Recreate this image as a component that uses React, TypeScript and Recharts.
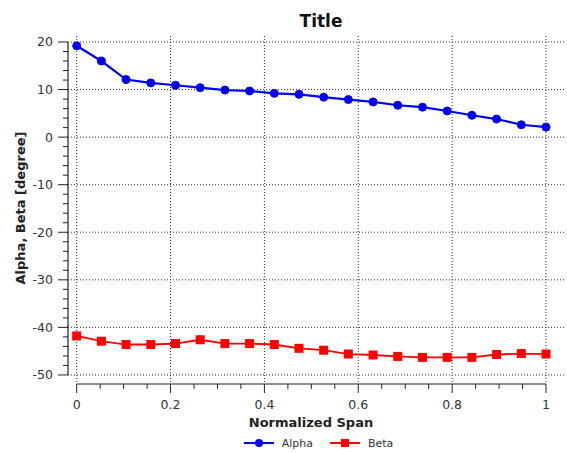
import React from 'react';
import {
  LineChart,
  Line,
  XAxis,
  YAxis,
  CartesianGrid,
  Legend,
  ReferenceLine,
  Customized,
} from 'recharts';

// ---- data ----
const SPAN = [
  0, 0.0526, 0.1053, 0.1579, 0.2105, 0.2632, 0.3158, 0.3684, 0.4211, 0.4737,
  0.5263, 0.5789, 0.6316, 0.6842, 0.7368, 0.7895, 0.8421, 0.8947, 0.9474, 1,
];
const ALPHA = [
  19.2, 16.0, 12.1, 11.4, 10.9, 10.4, 9.9, 9.7, 9.2, 9.0,
  8.4, 7.9, 7.4, 6.7, 6.3, 5.5, 4.6, 3.8, 2.6, 2.1,
];
const BETA = [
  -41.8, -42.9, -43.6, -43.6, -43.4, -42.6, -43.4, -43.4, -43.6, -44.4,
  -44.8, -45.6, -45.8, -46.1, -46.3, -46.3, -46.3, -45.7, -45.5, -45.6,
];

const X_MAJOR = [0, 0.2, 0.4, 0.6, 0.8, 1];
const X_TICKS = [
  0, 0.05, 0.1, 0.15, 0.2, 0.25, 0.3, 0.35, 0.4, 0.45, 0.5,
  0.55, 0.6, 0.65, 0.7, 0.75, 0.8, 0.85, 0.9, 0.95, 1,
];
const Y_MAJOR = [-50, -40, -30, -20, -10, 0, 10, 20];
const Y_TICKS = [
  -50, -48, -46, -44, -42, -40, -38, -36, -34, -32, -30, -28, -26, -24, -22,
  -20, -18, -16, -14, -12, -10, -8, -6, -4, -2, 0, 2, 4, 6, 8, 10, 12, 14, 16,
  18, 20,
];
const X_DOMAIN: [number, number] = [-0.0185, 1.0426];
const Y_DOMAIN: [number, number] = [-51.9, 21.26];

const data = SPAN.map((x, i) => ({ x, alpha: ALPHA[i], beta: BETA[i] }));

// ---- style ----
const FONT = '"DejaVu Sans", Verdana, sans-serif';
const BLUE = '#0000ee';
const RED = '#ff0000';
const INK = '#222';
const TEXT = '#333';

const isIn = (arr: number[], v: number) => arr.some((m) => Math.abs(m - v) < 1e-9);

const XTick = (props: any) => {
  const { x, y, payload } = props;
  const v = payload.value;
  const major = isIn(X_MAJOR, v);
  return (
    <g>
      <line x1={x} y1={y} x2={x} y2={y + (major ? 9 : 5)} stroke={INK} strokeWidth={1} />
      {major && (
        <text x={x} y={y + 25} textAnchor="middle" fontFamily={FONT} fontSize={12.5} fill={TEXT}>
          {String(v)}
        </text>
      )}
    </g>
  );
};

const YTick = (props: any) => {
  const { x, y, payload } = props;
  const v = payload.value;
  const major = isIn(Y_MAJOR, v);
  return (
    <g>
      <line x1={x} y1={y} x2={x - (major ? 10 : 5)} y2={y} stroke={INK} strokeWidth={1} />
      {major && (
        <text x={x - 15} y={y} dy="0.36em" textAnchor="end" fontFamily={FONT} fontSize={12.5} fill={TEXT}>
          {String(v)}
        </text>
      )}
    </g>
  );
};

const Marker = ({ kind, color }: { kind: string; color: string }) => (
  <svg width={30} height={12} style={{ display: 'block' }}>
    <line x1={0} y1={6} x2={30} y2={6} stroke={color} strokeWidth={2} />
    {kind === 'alpha' ? (
      <circle cx={15} cy={6} r={4} fill={color} />
    ) : (
      <rect x={11} y={2} width={8} height={8} fill={color} />
    )}
  </svg>
);

const LegendContent = (props: any) => {
  const payload = props.payload || [];
  return (
    <div
      style={{
        display: 'flex',
        justifyContent: 'center',
        alignItems: 'center',
        height: 20,
        fontFamily: FONT,
        fontSize: 11,
        color: TEXT,
        paddingLeft: 3,
      }}
    >
      {payload.map((p: any, i: number) => (
        <div key={p.value} style={{ display: 'flex', alignItems: 'center', marginLeft: i === 0 ? 0 : 17 }}>
          <Marker kind={p.dataKey} color={p.color} />
          <span style={{ marginLeft: 8 }}>{p.value}</span>
        </div>
      ))}
    </div>
  );
};

const SquareDot = (props: any) => {
  const { cx, cy, index } = props;
  if (cx == null || cy == null) return <g key={`sq-${index}`} />;
  return <rect key={`sq-${index}`} x={cx - 4.5} y={cy - 4.5} width={9} height={9} fill={RED} />;
};

const Texts = () => (
  <g>
    <text x={321} y={26.5} textAnchor="middle" fontFamily={FONT} fontWeight="bold" fontSize={17} fill="#111">
      Title
    </text>
    <text x={311} y={427} textAnchor="middle" fontFamily={FONT} fontWeight="bold" fontSize={13} fill={INK}>
      Normalized Span
    </text>
    <text
      transform="translate(25,208) rotate(-90)"
      x={0}
      y={0}
      textAnchor="middle"
      fontFamily={FONT}
      fontWeight="bold"
      fontSize={13}
      fill={INK}
    >
      Alpha, Beta [degree]
    </text>
  </g>
);

export default function App() {
  return (
    <div style={{ position: 'absolute', left: 0, top: 0, width: 567, height: 453, background: '#fff' }}>
      <LineChart
        width={567}
        height={453}
        data={data}
        margin={{ top: 36, right: 1, left: 8, bottom: 0 }}
        style={{ fontFamily: FONT }}
      >
        <CartesianGrid
          stroke="#333"
          strokeDasharray="1 2"
          horizontalValues={Y_MAJOR}
          verticalValues={X_MAJOR}
        />
        <XAxis
          type="number"
          dataKey="x"
          domain={X_DOMAIN}
          ticks={X_TICKS}
          interval={0}
          allowDataOverflow
          axisLine={false}
          tickLine={false}
          tickSize={0}
          tickMargin={0}
          height={49}
          tick={<XTick />}
        />
        <YAxis
          type="number"
          domain={Y_DOMAIN}
          ticks={Y_TICKS}
          interval={0}
          allowDataOverflow
          axisLine={false}
          tickLine={false}
          tickSize={0}
          tickMargin={0}
          width={60}
          tick={<YTick />}
        />
        <ReferenceLine
          segment={[
            { x: X_DOMAIN[0], y: Y_MAJOR[0] },
            { x: X_DOMAIN[0], y: Y_MAJOR[Y_MAJOR.length - 1] },
          ]}
          stroke={INK}
          strokeWidth={1.2}
          ifOverflow="visible"
        />
        <ReferenceLine
          segment={[
            { x: X_MAJOR[0], y: Y_DOMAIN[0] },
            { x: X_MAJOR[X_MAJOR.length - 1], y: Y_DOMAIN[0] },
          ]}
          stroke={INK}
          strokeWidth={1.2}
          ifOverflow="visible"
        />
        <Line
          dataKey="alpha"
          name="Alpha"
          stroke={BLUE}
          strokeWidth={2.2}
          dot={{ r: 4, fill: BLUE, stroke: BLUE, strokeWidth: 1 }}
          activeDot={false}
          isAnimationActive={false}
        />
        <Line
          dataKey="beta"
          name="Beta"
          stroke={RED}
          strokeWidth={1.8}
          dot={<SquareDot />}
          activeDot={false}
          isAnimationActive={false}
        />
        <Legend
          verticalAlign="bottom"
          content={<LegendContent />}
          wrapperStyle={{ left: 68, width: 498, bottom: 0 }}
        />
        <Customized component={<Texts />} />
      </LineChart>
    </div>
  );
}
